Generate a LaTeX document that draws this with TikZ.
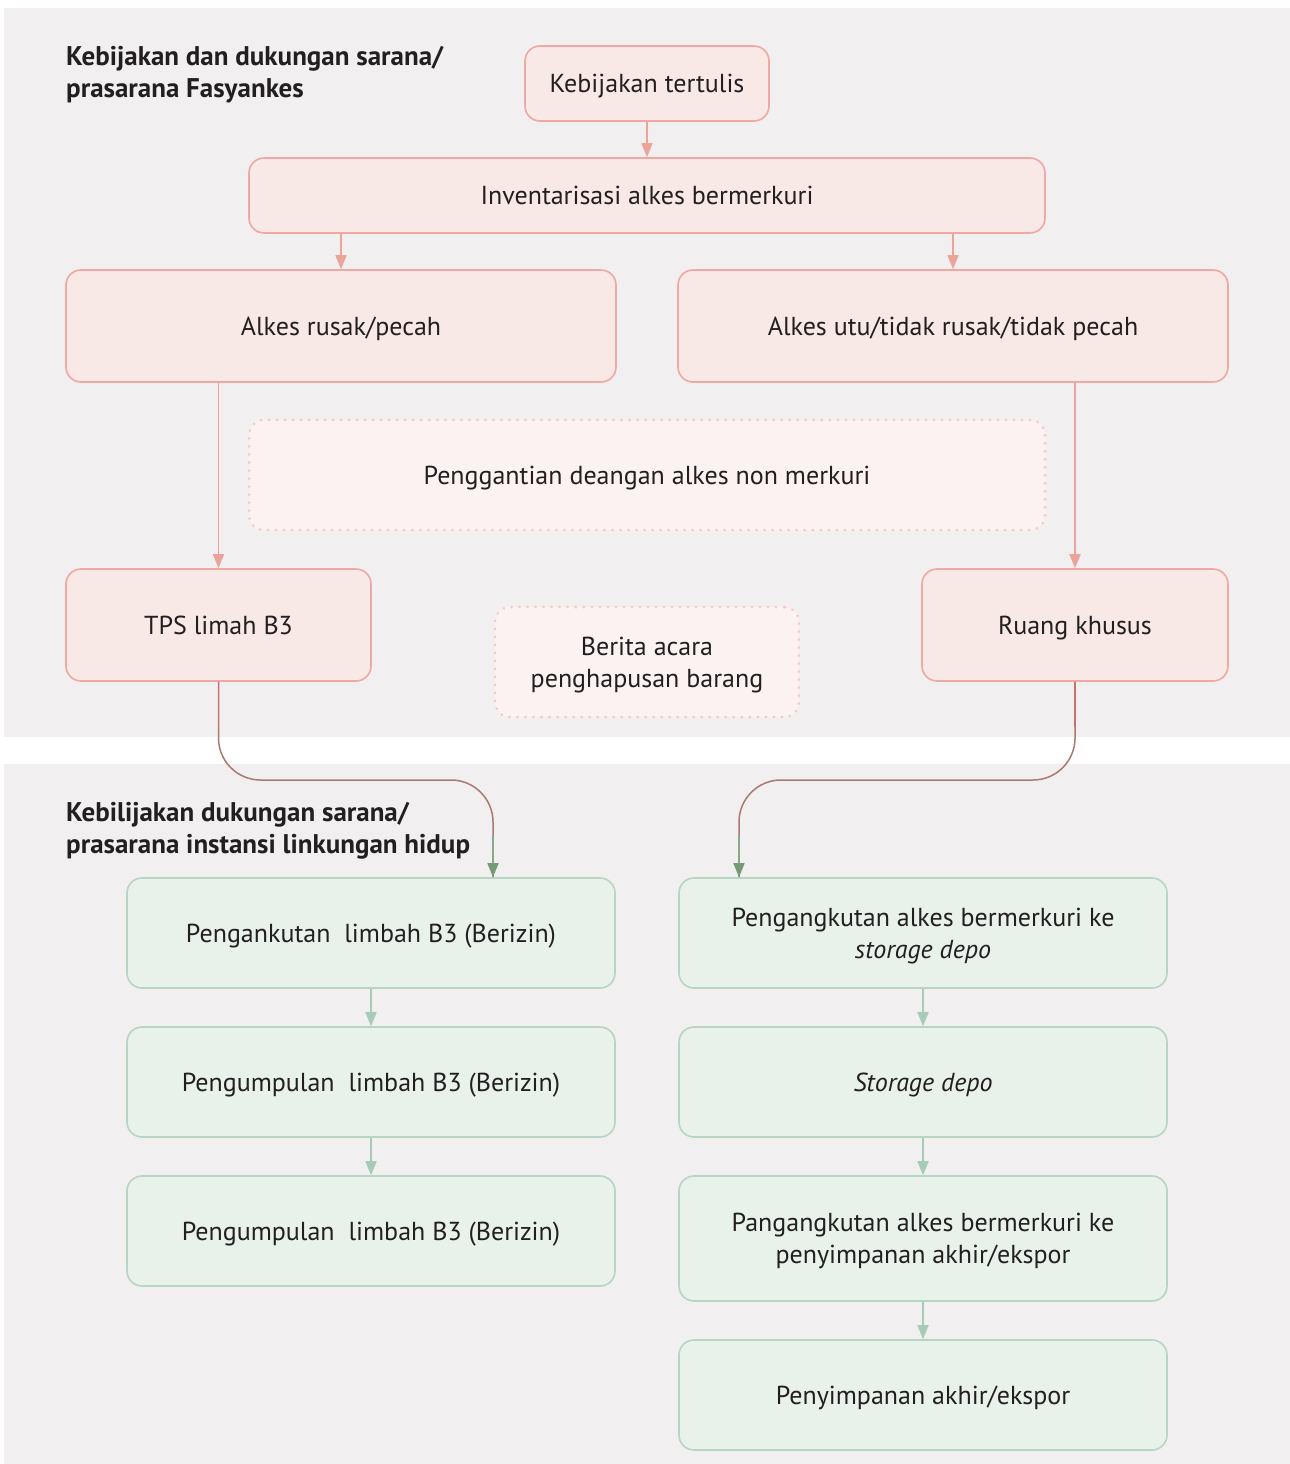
\documentclass[tikz,border=0pt]{standalone}
\usepackage{fontspec}
\setmainfont{PT Sans}
\usetikzlibrary{arrows.meta}
\definecolor{panel}{HTML}{F1EFF0}
\definecolor{pinkfill}{HTML}{F8E8E6}
\definecolor{pinkdraw}{HTML}{EFA9A2}
\definecolor{pinkarrow}{HTML}{EBA39B}
\definecolor{dotfill}{HTML}{FBF2F1}
\definecolor{dotdraw}{HTML}{F6C9C2}
\definecolor{greenfill}{HTML}{E8F1EA}
\definecolor{greendraw}{HTML}{B7D5C3}
\definecolor{greenarrow}{HTML}{A6CCB7}
\definecolor{txt}{HTML}{231F20}
\definecolor{curvemid}{HTML}{A97A6E}
\definecolor{curvetop}{HTML}{CF6F6C}
\definecolor{curvebot}{HTML}{8CA788}
\definecolor{curvetip}{HTML}{759B75}
\begin{document}
\begin{tikzpicture}[x=1pt,y=-1pt,
  every node/.style={text=txt,font=\fontsize{26}{32}\selectfont,align=center,inner sep=0pt,text depth=0pt},
  pbox/.style={draw=pinkdraw,fill=pinkfill,line width=1.6pt,rounded corners=15pt},
  dbox/.style={draw=dotdraw,fill=dotfill,line width=3pt,rounded corners=15pt,line cap=round,dash pattern=on 0.01pt off 8pt},
  gbox/.style={draw=greendraw,fill=greenfill,line width=1.6pt,rounded corners=15pt},
  parrow/.style={draw=pinkarrow,line width=1.6pt,-{Triangle[length=14pt,width=11pt]}},
  garrow/.style={draw=greenarrow,line width=1.6pt,-{Triangle[length=14pt,width=11pt]}},
  title/.style={font=\bfseries\fontsize{27}{32}\selectfont,align=left,anchor=base west}
]
\useasboundingbox (0,0) rectangle (1290,1464);
\fill[white] (0,0) rectangle (1290,1464);
\fill[panel] (4,8) rectangle (1290,737);
\fill[panel] (4,764) rectangle (1290,1464);

\node[title] (t1) at (66,97) {Kebijakan dan dukungan sarana/\\prasarana Fasyankes};
\node[title] (t2) at (66,853) {Kebilijakan dukungan sarana/\\prasarana instansi linkungan hidup};

\node[pbox,minimum width=244pt,minimum height=75pt] (kt) at (647,83.5) {Kebijakan tertulis};
\node[pbox,minimum width=796pt,minimum height=75pt] (inv) at (647,195.5) {Inventarisasi alkes bermerkuri};
\node[pbox,minimum width=550pt,minimum height=112pt] (ar) at (341,326) {Alkes rusak/pecah};
\node[pbox,minimum width=550pt,minimum height=112pt] (au) at (953,326) {Alkes utu/tidak rusak/tidak pecah};
\node[dbox,minimum width=796pt,minimum height=110pt] (pg) at (647,475) {Penggantian deangan alkes non merkuri};
\node[pbox,minimum width=305pt,minimum height=112pt] (tps) at (218.5,625) {TPS limah B3};
\node[dbox,minimum width=304pt,minimum height=110pt] (ba) at (647,662) {Berita acara\\penghapusan barang};
\node[pbox,minimum width=306pt,minimum height=112pt] (rk) at (1075,625) {Ruang khusus};

\node[gbox,minimum width=488pt,minimum height=110pt] (g1) at (371,933) {Pengankutan\ \ limbah B3 (Berizin)};
\node[gbox,minimum width=488pt,minimum height=110pt] (g2) at (371,1082) {Pengumpulan\ \ limbah B3 (Berizin)};
\node[gbox,minimum width=488pt,minimum height=110pt] (g3) at (371,1231) {Pengumpulan\ \ limbah B3 (Berizin)};

\node[gbox,minimum width=488pt,minimum height=110pt] (h1) at (923,933) {Pengangkutan alkes bermerkuri ke\\\textit{storage depo}};
\node[gbox,minimum width=488pt,minimum height=110pt] (h2) at (923,1082) {\textit{Storage depo}};
\node[gbox,minimum width=488pt,minimum height=125pt] (h3) at (923,1238.5) {Pangangkutan alkes bermerkuri ke\\penyimpanan akhir/ekspor};
\node[gbox,minimum width=488pt,minimum height=110pt] (h4) at (923,1395) {Penyimpanan akhir/ekspor};

\draw[parrow] (kt) -- (inv);
\draw[parrow] (ar.north |- inv.south) -- (ar.north);
\draw[parrow] (au.north |- inv.south) -- (au.north);
\draw[parrow] (tps.north |- ar.south) -- (tps.north);
\draw[parrow] (rk.north |- au.south) -- (rk.north);

\draw[garrow] (g1) -- (g2);
\draw[garrow] (g2) -- (g3);
\draw[garrow] (h1) -- (h2);
\draw[garrow] (h2) -- (h3);
\draw[garrow] (h3) -- (h4);

% curved connectors
\coordinate (la) at (218.5,780);
\coordinate (lb) at (493,780);
\coordinate (lc) at (493,835);
\coordinate (ra) at (1075,780);
\coordinate (rb) at (739,780);
\coordinate (rc) at (739,835);
\draw[curvemid,line width=1.5pt,rounded corners=42pt] (tps.south) -- (la) -- (lb) -- (lb |- g1.north);
\draw[curvemid,line width=1.5pt,rounded corners=42pt] (rk.south) -- (ra) -- (rb) -- (rb |- h1.north);
\draw[curvetop,line width=1.5pt] (tps.south) -- ++(0,45);
\draw[curvetop,line width=1.5pt] (rk.south) -- ++(0,45);
\draw[curvebot,line width=1.5pt,-{Triangle[length=14pt,width=11pt,color=curvetip,fill=curvetip]}] (lc) -- (lc |- g1.north);
\draw[curvebot,line width=1.5pt,-{Triangle[length=14pt,width=11pt,color=curvetip,fill=curvetip]}] (rc) -- (rc |- h1.north);
\end{tikzpicture}
\end{document}
